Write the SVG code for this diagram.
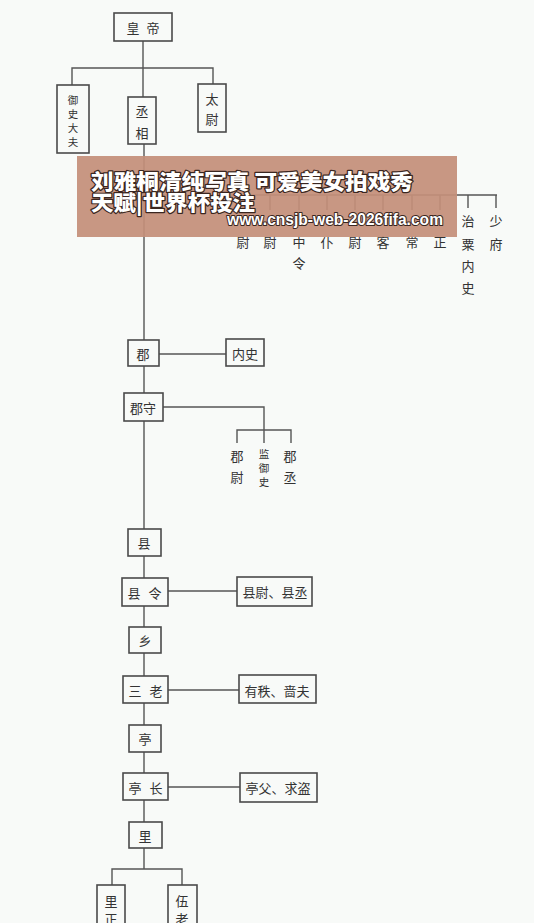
<svg xmlns="http://www.w3.org/2000/svg" width="534" height="923" viewBox="0 0 534 923">
<style>
.bx{fill:none;stroke:#4a4a4a;stroke-width:1.6}
.ln{fill:none;stroke:#555;stroke-width:1.4}
.t{font-family:"Noto Sans CJK SC","Noto Sans CJK JP",sans-serif;font-size:13px;fill:#333;text-anchor:middle;dominant-baseline:central}
.s{font-size:10.5px}
.bt{font-family:"Noto Sans CJK SC","Noto Sans CJK JP",sans-serif;font-weight:900;fill:#fff;stroke:#3a2620;stroke-width:2.4;paint-order:stroke;stroke-linejoin:round}
.url{font-family:"Liberation Sans",Arial,sans-serif;font-weight:bold;fill:#fff;stroke:#3a2620;stroke-width:2;paint-order:stroke;stroke-linejoin:round}
</style>
<rect width="534" height="923" fill="#f8faf8"/>
<g id="connectors">
<path class="ln" d="M143 41V97M72 85V68H213V84M144 144V340M159 354H226M144 366V393M144 421V529M163 407H264V430M237 443V430H291V443M264 430V443M144 556V578M168 591H237M144 606V627M144 653V676M168 690H239M144 703V725M144 752V773M168 787H240M144 800V822M144 848V869M112 885V869H182V885"/>
<path class="ln" d="M143 195H497M243 195V210M270 195V210M299 195V210M327 195V210M355 195V210M383 195V210M412 195V210M440 195V210M468 195V208M496 195V208"/>
</g>
<g id="huangdi"><rect class="bx" x="114" y="13" width="58" height="28"/><text class="t" y="27"><tspan x="133">皇</tspan><tspan x="153">帝</tspan></text></g>
<g id="yushidafu"><rect class="bx" x="57" y="85" width="32" height="68"/><text class="t s" x="73" y="99">御</text><text class="t s" x="73" y="113">史</text><text class="t s" x="73" y="127">大</text><text class="t s" x="73" y="141">夫</text></g>
<g id="chengxiang"><rect class="bx" x="128" y="97" width="28" height="47"/><text class="t" x="142" y="110">丞</text><text class="t" x="142" y="132">相</text></g>
<g id="taiwei"><rect class="bx" x="198" y="84" width="28" height="48"/><text class="t" x="212" y="98">太</text><text class="t" x="212" y="118">尉</text></g>
<g id="col1"><text class="t" x="243" y="241">尉</text></g>
<g id="col2"><text class="t" x="270" y="241">尉</text></g>
<g id="col3"><text class="t" x="299" y="241">中</text><text class="t" x="299" y="262">令</text></g>
<g id="col4"><text class="t" x="327" y="241">仆</text></g>
<g id="col5"><text class="t" x="355" y="241">尉</text></g>
<g id="col6"><text class="t" x="383" y="241">客</text></g>
<g id="col7"><text class="t" x="412" y="241">常</text></g>
<g id="col8"><text class="t" x="440" y="241">正</text></g>
<g id="zhisuneishi"><text class="t" x="468" y="220">治</text><text class="t" x="468" y="243">粟</text><text class="t" x="468" y="265">内</text><text class="t" x="468" y="287">史</text></g>
<g id="shaofu"><text class="t" x="496" y="220">少</text><text class="t" x="496" y="243">府</text></g>
<g id="jun"><rect class="bx" x="128" y="340" width="31" height="26"/><text class="t" x="143" y="353">郡</text></g>
<g id="neishi"><rect class="bx" x="226" y="339" width="38" height="27"/><text class="t" x="245" y="353">内史</text></g>
<g id="junshou"><rect class="bx" x="124" y="393" width="39" height="28"/><text class="t" x="143" y="407">郡守</text></g>
<g id="junwei"><text class="t" x="237" y="455">郡</text><text class="t" x="237" y="476">尉</text></g>
<g id="jianyushi"><text class="t s" x="264" y="453">监</text><text class="t s" x="264" y="467">御</text><text class="t s" x="264" y="481">史</text></g>
<g id="juncheng"><text class="t" x="290" y="455">郡</text><text class="t" x="290" y="476">丞</text></g>
<g id="xian"><rect class="bx" x="128" y="529" width="33" height="27"/><text class="t" x="144" y="542">县</text></g>
<g id="xianling"><rect class="bx" x="122" y="578" width="46" height="28"/><text class="t" y="592"><tspan x="134">县</tspan><tspan x="155">令</tspan></text></g>
<g id="xianwei"><rect class="bx" x="237" y="577" width="75" height="29"/><text class="t" x="275" y="591">县尉、县丞</text></g>
<g id="xiang"><rect class="bx" x="129" y="627" width="32" height="26"/><text class="t" x="145" y="640">乡</text></g>
<g id="sanlao"><rect class="bx" x="123" y="676" width="45" height="27"/><text class="t" y="690"><tspan x="135">三</tspan><tspan x="156">老</tspan></text></g>
<g id="youzhi"><rect class="bx" x="239" y="675" width="77" height="28"/><text class="t" x="277" y="690">有秩、啬夫</text></g>
<g id="ting"><rect class="bx" x="129" y="725" width="32" height="27"/><text class="t" x="145" y="738">亭</text></g>
<g id="tingzhang"><rect class="bx" x="123" y="773" width="45" height="27"/><text class="t" y="787"><tspan x="135">亭</tspan><tspan x="156">长</tspan></text></g>
<g id="tingfu"><rect class="bx" x="240" y="773" width="77" height="29"/><text class="t" x="278" y="787">亭父、求盗</text></g>
<g id="li"><rect class="bx" x="129" y="822" width="33" height="26"/><text class="t" x="145" y="835">里</text></g>
<g id="lizheng"><rect class="bx" x="97" y="885" width="28" height="48"/><text class="t" x="111" y="900">里</text><text class="t" x="111" y="918">正</text></g>
<g id="wulao"><rect class="bx" x="168" y="885" width="29" height="48"/><text class="t" x="182" y="900">伍</text><text class="t" x="182" y="918">老</text></g>
<g id="banner">
<rect x="77" y="156" width="380" height="81" fill="#c48f7a" opacity="0.93"/>
<text class="bt" x="91" y="189" font-size="21" textLength="322" lengthAdjust="spacingAndGlyphs">刘雅桐清纯写真 可爱美女拍戏秀</text>
<text class="bt" x="91" y="210" font-size="21" textLength="164" lengthAdjust="spacingAndGlyphs">天赋|世界杯投注</text>
<text class="url" x="227" y="225" font-size="16" textLength="216" lengthAdjust="spacingAndGlyphs">www.cnsjb-web-2026fifa.com</text>
</g>
</svg>
